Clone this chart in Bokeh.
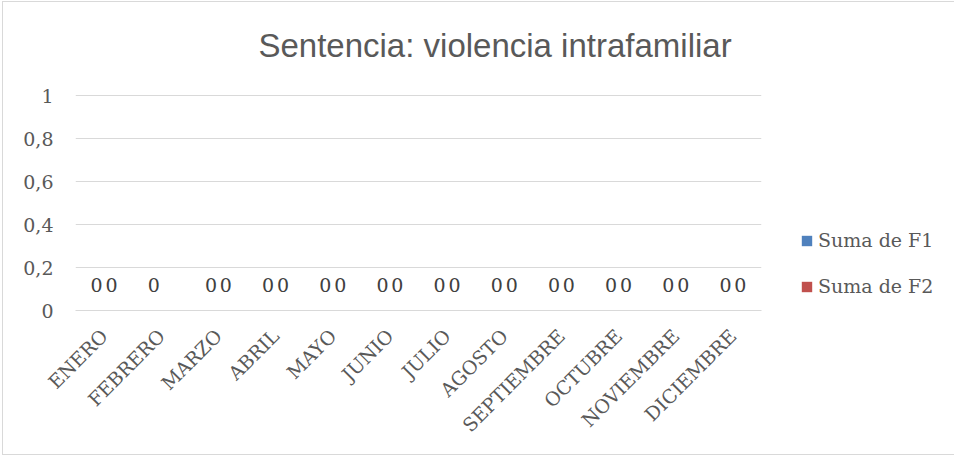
from bokeh.plotting import figure
from bokeh.models import (FactorRange, Range1d, FixedTicker, CustomJSTickFormatter,
                          Legend, LegendItem, ColumnDataSource, Label)
from bokeh.transform import dodge
from bokeh.embed import file_html
from bokeh.resources import INLINE
import math

months = ["ENERO", "FEBRERO", "MARZO", "ABRIL", "MAYO", "JUNIO", "JULIO",
          "AGOSTO", "SEPTIEMBRE", "OCTUBRE", "NOVIEMBRE", "DICIEMBRE"]
f1 = [0, 0, 0, 0, 0, 0, 0, 0, 0, 0, 0, 0]
f2 = [0, None, 0, 0, 0, 0, 0, 0, 0, 0, 0, 0]
y_ticks = [0, 0.2, 0.4, 0.6, 0.8, 1]
title_text = "Sentencia: violencia intrafamiliar"
series_names = ["Suma de F1", "Suma de F2"]
colors = ["#4f81bd", "#c0504d"]

SERIF = "DejaVu Serif"
W, H = 944, 452
PX_PER_UNIT = 215
FL, FT, FW, FH = 72, 10, 686, 298
y_top = FH / PX_PER_UNIT  # extra room above 1 holds the title inside the frame

p = figure(x_range=FactorRange(*months, range_padding=0), y_range=Range1d(0, y_top),
           width=W, height=H, output_backend="svg", toolbar_location=None,
           min_border_left=FL, min_border_top=FT, min_border_right=W - FL - FW,
           min_border_bottom=H - FT - FH)
p.frame_width = FW
p.frame_height = FH
p.outline_line_color = None
p.background_fill_color = "white"
p.styles = {"border": "1px solid #d9d9d9", "margin-left": "2px", "margin-top": "1px"}

p.add_layout(Label(x=3.2, y=1.0 + 50 / PX_PER_UNIT, text=title_text,
                   text_align="left", text_baseline="middle",
                   text_font="Liberation Sans", text_font_size="33px",
                   text_color="#595959"))

src1 = ColumnDataSource(dict(x=[m for m, v in zip(months, f1) if v is not None],
                             y=[v for v in f1 if v is not None],
                             t=[str(v) for v in f1 if v is not None]))
src2 = ColumnDataSource(dict(x=[m for m, v in zip(months, f2) if v is not None],
                             y=[v for v in f2 if v is not None],
                             t=[str(v) for v in f2 if v is not None]))

off = 0.13
r1 = p.vbar(x=dodge("x", -off, range=p.x_range), top="y", width=0.25, source=src1,
            fill_color=colors[0], line_color=None)
r2 = p.vbar(x=dodge("x", off, range=p.x_range), top="y", width=0.25, source=src2,
            fill_color=colors[1], line_color=None)

for src, d in ((src1, -off), (src2, off)):
    p.text(x=dodge("x", d, range=p.x_range), y=0.12, text="t", source=src,
           text_align="center", text_baseline="middle",
           text_font={"value": SERIF}, text_font_size="19px",
           text_color="#404040")

# axes
p.yaxis.ticker = FixedTicker(ticks=y_ticks)
p.yaxis.formatter = CustomJSTickFormatter(
    code="return (Math.round(tick*10)/10).toString().replace('.', ',');")
p.yaxis.axis_line_color = None
p.yaxis.major_tick_line_color = None
p.yaxis.minor_tick_line_color = None
p.yaxis.major_label_text_font = SERIF
p.yaxis.major_label_text_font_size = "19px"
p.yaxis.major_label_text_color = "#595959"
p.yaxis.major_label_standoff = 16

p.xaxis.axis_line_color = "#d9d9d9"
p.xaxis.major_tick_line_color = None
p.xaxis.minor_tick_line_color = None
p.xaxis.major_label_orientation = math.pi / 4
p.xaxis.major_label_text_font = SERIF
p.xaxis.major_label_text_font_size = "19px"
p.xaxis.major_label_text_color = "#595959"
p.xaxis.major_label_standoff = 16

p.xgrid.grid_line_color = None
p.ygrid.grid_line_color = "#d9d9d9"
p.ygrid.grid_line_width = 1

legend = Legend(items=[LegendItem(label=series_names[0], renderers=[r1]),
                       LegendItem(label=series_names[1], renderers=[r2])],
                location=(39, 13), orientation="vertical")
legend.glyph_width = 13
legend.glyph_height = 13
legend.label_height = 20
legend.spacing = 24
legend.padding = 0
legend.margin = 0
legend.border_line_color = None
legend.background_fill_alpha = 0
legend.label_text_font = SERIF
legend.label_text_font_size = "19px"
legend.label_text_color = "#595959"
legend.label_standoff = 5
p.add_layout(legend, "right")

open("out.html", "w").write(file_html(p, INLINE))
